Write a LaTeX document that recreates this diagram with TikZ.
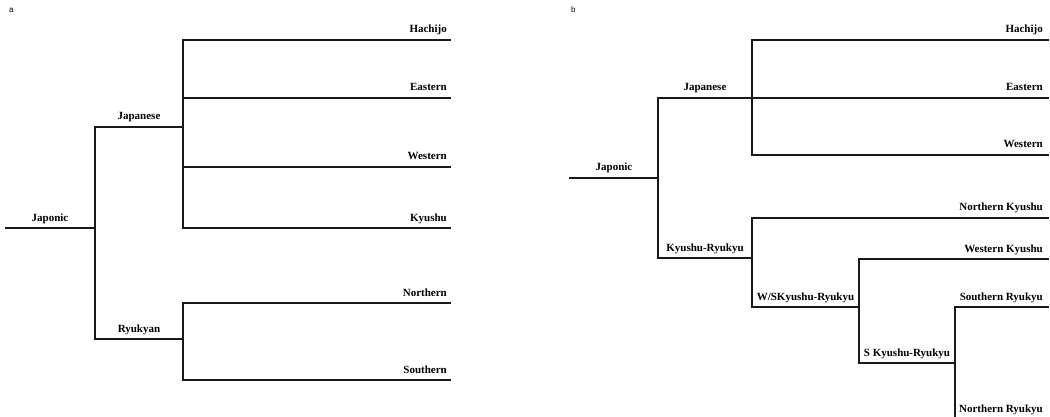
\documentclass[tikz,border=0pt]{standalone}
\usepackage{fontspec}
\setmainfont{Liberation Serif}
\newfontfamily\panelfont{Liberation Sans}
\begin{document}
\begin{tikzpicture}[x=1pt,y=-1pt,
  branch/.style={line width=1.7pt, draw=black!90, line cap=rect},
  lab/.style={font=\bfseries\fontsize{11}{13}\selectfont, anchor=base, inner sep=0pt},
  leaf/.style={font=\bfseries\fontsize{11}{13}\selectfont, anchor=base east, inner sep=0pt},
  panel/.style={font=\panelfont\fontsize{8}{9}\selectfont, anchor=base west, inner sep=0pt}]
\useasboundingbox (0,0) rectangle (1050,417);

% ---------- panel a ----------
\node[panel] (pa) at (9,13) {a};
\coordinate (aroot) at (6,228);
\coordinate (ajap) at (95,228);
\coordinate (ajapT) at (95,127);
\coordinate (aryuB) at (95,339);
\coordinate (ajapE) at (183,127);
\coordinate (aryuE) at (183,339);
\coordinate (ah0) at (183,40);
\coordinate (ae0) at (183,98);
\coordinate (aw0) at (183,167);
\coordinate (ak0) at (183,228);
\coordinate (ah1) at (450,40);
\coordinate (ae1) at (450,98);
\coordinate (aw1) at (450,167);
\coordinate (ak1) at (450,228);
\coordinate (an0) at (183,303);
\coordinate (as0) at (183,380);
\coordinate (an1) at (450,303);
\coordinate (as1) at (450,380);

\draw[branch] (aroot) -- (ajap);
\draw[branch] (ajapE) -- (ajapT) -- (aryuB) -- (aryuE);
\draw[branch] (ah1) -- (ah0) -- (ak0) -- (ak1);
\draw[branch] (ae0) -- (ae1);
\draw[branch] (aw0) -- (aw1);
\draw[branch] (an1) -- (an0) -- (as0) -- (as1);

\node[lab] (aJaponic) at (50,221) {Japonic};
\node[lab] (aJapanese) at (139,120) {Japanese};
\node[lab] (aRyukyan) at (139,332) {Ryukyan};
\node[leaf] (aHachijo) at (447,33) {Hachijo};
\node[leaf] (aEastern) at (447,91) {Eastern};
\node[leaf] (aWestern) at (447,160) {Western};
\node[leaf] (aKyushu) at (447,221) {Kyushu};
\node[leaf] (aNorthern) at (447,296) {Northern};
\node[leaf] (aSouthern) at (447,373) {Southern};

% ---------- panel b ----------
\node[panel] (pb) at (571,13) {b};
\coordinate (broot) at (570,178);
\coordinate (bjn) at (658,178);
\coordinate (bjT) at (658,98);
\coordinate (bkB) at (658,258);
\coordinate (bjE) at (752,98);
\coordinate (bkE) at (752,258);
\coordinate (bh0) at (752,40);
\coordinate (bw0) at (752,155);
\coordinate (bh1) at (1048,40);
\coordinate (be1) at (1048,98);
\coordinate (bw1) at (1048,155);
\coordinate (bnk0) at (752,218);
\coordinate (bnk1) at (1048,218);
\coordinate (bws0) at (752,307);
\coordinate (bws1) at (859,307);
\coordinate (bwk0) at (859,259);
\coordinate (bwk1) at (1048,259);
\coordinate (bsk0) at (859,363);
\coordinate (bsk1) at (955,363);
\coordinate (bsr0) at (955,307);
\coordinate (bsr1) at (1048,307);
\coordinate (bnr0) at (955,417);

\draw[branch] (broot) -- (bjn);
\draw[branch] (bjE) -- (bjT) -- (bkB) -- (bkE);
\draw[branch] (bh1) -- (bh0) -- (bw0) -- (bw1);
\draw[branch] (bjE) -- (be1);
\draw[branch] (bnk1) -- (bnk0) -- (bws0) -- (bws1);
\draw[branch] (bwk1) -- (bwk0) -- (bsk0) -- (bsk1);
\draw[branch] (bsr1) -- (bsr0) -- (bnr0);

\node[lab] (bJaponic) at (614,171) {Japonic};
\node[lab] (bJapanese) at (705,91) {Japanese};
\node[lab] (bKR) at (705,251) {Kyushu-Ryukyu};
\node[lab] (bWS) at (805.5,300) {W/SKyushu-Ryukyu};
\node[lab] (bSK) at (907,356) {S Kyushu-Ryukyu};
\node[leaf] (bHachijo) at (1043,33) {Hachijo};
\node[leaf] (bEastern) at (1043,91) {Eastern};
\node[leaf] (bWestern) at (1043,148) {Western};
\node[leaf] (bNK) at (1043,211) {Northern Kyushu};
\node[leaf] (bWK) at (1043,252) {Western Kyushu};
\node[leaf] (bSR) at (1043,300) {Southern Ryukyu};
\node[leaf] (bNR) at (1043,412) {Northern Ryukyu};
\end{tikzpicture}
\end{document}
